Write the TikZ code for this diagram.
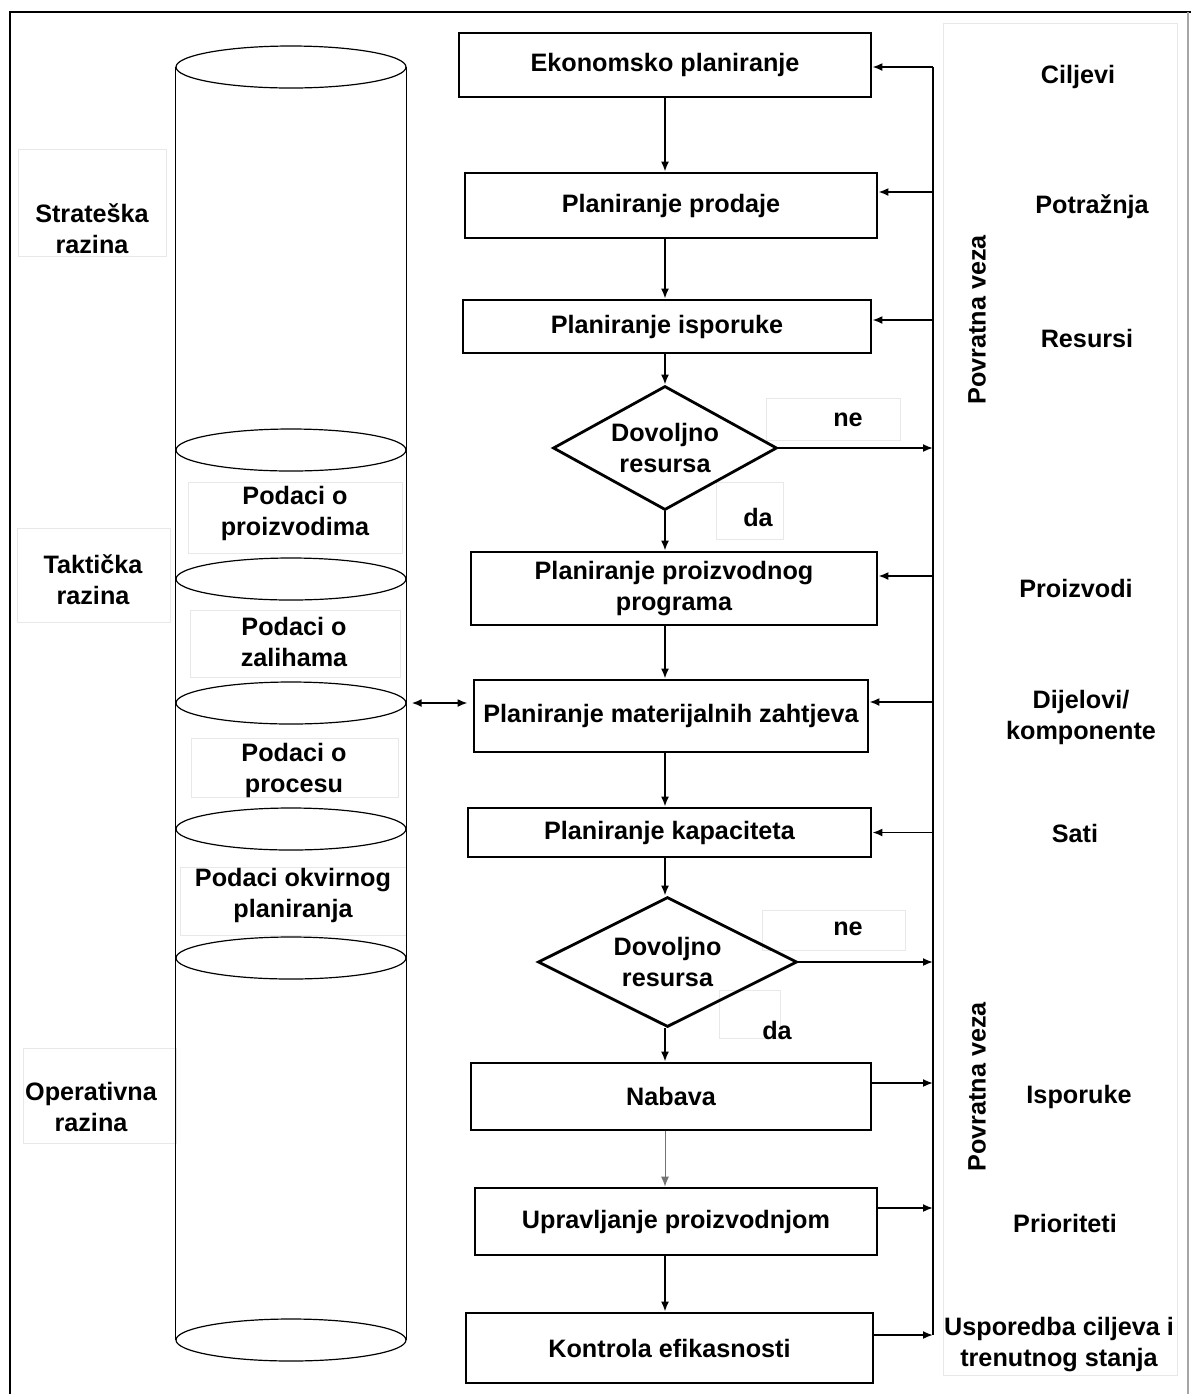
\documentclass[tikz,border=0pt]{standalone}
\usepackage{fontspec}
\setmainfont{Liberation Sans}
\usetikzlibrary{shapes.geometric, arrows.meta}

\begin{document}
\begin{tikzpicture}[x=0.5pt, y=-0.5pt,
  font=\fontsize{12.6}{15.5}\selectfont\bfseries,
  box/.style={draw, line width=1.4pt, inner sep=0pt, align=center},
  cond/.style={diamond, draw, line width=1.4pt, inner sep=0pt, align=center},
  disk/.style={ellipse, draw, line width=0.6pt, inner sep=0pt, minimum width=115pt, minimum height=21pt},
  ghost/.style={draw=black!9, line width=0.5pt},
  lbl/.style={align=center, inner sep=0pt},
  arr/.style={-{Latex[length=5pt, width=4pt]}, line width=0.9pt}]
  \useasboundingbox (0,0) rectangle (1191,1394);

  % frame
  \draw[line width=1.4pt] (10,1394) -- (10,12) -- (1191,12);
  \draw[black!35, line width=0.6pt] (1188,12) -- (1188,1394);

  % faint label boxes
  \draw[ghost] (18,149) rectangle (166,256);
  \draw[ghost] (17,528) rectangle (170,622);
  \draw[ghost] (23,1048) rectangle (176,1143);
  \draw[ghost] (188,482) rectangle (402,553);
  \draw[ghost] (190,610) rectangle (400,677);
  \draw[ghost] (191,738) rectangle (398,797);
  \draw[ghost] (180,867) rectangle (406,935);
  \draw[ghost] (766,398) rectangle (900,440);
  \draw[ghost] (716,482) rectangle (783,539);
  \draw[ghost] (762,910) rectangle (905,950);
  \draw[ghost] (719,990) rectangle (780,1038);
  \draw[ghost] (943,23) rectangle (1177,1375);

  % data cylinder
  \node[disk] (e1) at (291,67) {};
  \node[disk] (e2) at (291,450) {};
  \node[disk] (e3) at (291,579) {};
  \node[disk] (e4) at (291,703) {};
  \node[disk] (e5) at (291,829) {};
  \node[disk] (e6) at (291,958) {};
  \node[disk] (e7) at (291,1340) {};
  \draw[line width=0.6pt] (e1.west) -- (e7.west) (e1.east) -- (e7.east);

  \node[lbl] (st) at (92,229) {Strateška\\razina};
  \node[lbl] (tk) at (93,580) {Taktička\\razina};
  \node[lbl] (op) at (91,1107) {Operativna\\razina};
  \node[lbl] (pd1) at (295,513) {Podaci o\\proizvodima};
  \node[lbl] (pd2) at (294,642) {Podaci o\\zalihama};
  \node[lbl] (pd3) at (294,770) {Podaci o\\procesu};
  \node[lbl] (pd4) at (293,895) {Podaci okvirnog\\planiranja};

  % planning chain
  \node[box, minimum width=206pt, minimum height=32pt] (ek) at (665,65) {Ekonomsko planiranje};
  \node[box, minimum width=206pt, minimum height=32.5pt] (pr) at (671,205.5) {Planiranje prodaje};
  \node[box, minimum width=204pt, minimum height=26.5pt] (is) at (667,326.5) {Planiranje isporuke};
  \node[cond, aspect=1.8, minimum width=112pt, minimum height=62pt] (d1) at (665,448) {Dovoljno\\resursa};
  \node[box, minimum width=203pt, minimum height=36.5pt] (pp) at (674,588.5) {Planiranje proizvodnog\\programa};
  \node[box, minimum width=197pt, minimum height=36pt] (mz) at (671,716) {Planiranje materijalnih zahtjeva};
  \node[box, minimum width=201.5pt, minimum height=24.5pt] (kp) at (669.5,832.5) {Planiranje kapaciteta};
  \node[cond, aspect=2, minimum width=129.5pt, minimum height=65pt] (d2) at (667.5,962) {Dovoljno\\resursa};
  \node[box, minimum width=200pt, minimum height=33.5pt] (nb) at (671,1096.5) {Nabava};
  \node[box, minimum width=201pt, minimum height=33.5pt] (up) at (676,1221.5) {Upravljanje proizvodnjom};
  \node[box, minimum width=203.5pt, minimum height=35pt] (ko) at (669.5,1348) {Kontrola efikasnosti};

  \node[lbl] (ne1) at (848,420) {ne};
  \node[lbl] (da1) at (758,517) {da};
  \node[lbl] (ne2) at (848,929) {ne};
  \node[lbl] (da2) at (777,1030) {da};

  % feedback side
  \node[lbl] (c1) at (1078,77) {Ciljevi};
  \node[lbl] (c2) at (1092,207) {Potražnja};
  \node[lbl] (c3) at (1087,338) {Resursi};
  \node[lbl] (c4) at (1076,588) {Proizvodi};
  \node[lbl] (c5) at (1081,717) {Dijelovi/\\komponente};
  \node[lbl] (c6) at (1075,833) {Sati};
  \node[lbl] (c7) at (1079,1097) {Isporuke};
  \node[lbl] (c8) at (1065,1223) {Prioriteti};
  \node[lbl] (c9) at (1059,1345) {Usporedba ciljeva i\\trenutnog stanja};
  \node[lbl, rotate=90] (pv1) at (977,320) {Povratna veza};
  \node[lbl, rotate=90] (pv2) at (977,1087) {Povratna veza};

  \coordinate (ax) at (665,0);
  \coordinate (fb) at (933,0);

  % main flow
  \draw[arr] (ek.south -| ax) -- (pr.north -| ax);
  \draw[arr] (pr.south -| ax) -- (is.north -| ax);
  \draw[arr] (is.south -| ax) -- (d1.north);
  \draw[arr] (d1.south) -- (pp.north -| ax);
  \draw[arr] (pp.south -| ax) -- (mz.north -| ax);
  \draw[arr] (mz.south -| ax) -- (kp.north -| ax);
  \draw[arr] (kp.south -| ax) -- (d2.north -| ax);
  \draw[arr] (d2.south -| ax) -- (nb.north -| ax);
  \draw[arr, line width=0.5pt, black!55] (nb.south -| ax) -- (up.north -| ax);
  \draw[arr] (up.south -| ax) -- (ko.north -| ax);

  % feedback loop
  \draw[line width=0.9pt] ([yshift=-1pt]ek.east -| fb) -- ([yshift=6.5pt]ko.east -| fb);
  \foreach \n/\s in {ek/-1,pr/6.75,is/3.25,pp/6.25,mz/7,kp/0}
    \draw[arr] ([yshift=\s pt]\n.east -| fb) -- ([yshift=\s pt]\n.east);
  \foreach \n/\s in {nb/6.75,up/6.75,ko/6.5}
    \draw[arr] ([yshift=\s pt]\n.east) -- ([yshift=\s pt]\n.east -| fb);
  \draw[arr] (d1.east) -- (d1.east -| fb);
  \draw[arr] (d2.east) -- (d2.east -| fb);

  % data link
  \draw[{Latex[length=5pt, width=4pt]}-{Latex[length=5pt, width=4pt]}, line width=0.9pt, shorten <=2.5pt, shorten >=2.5pt] (e4.east) -- (e4.east -| mz.west);
\end{tikzpicture}
\end{document}
